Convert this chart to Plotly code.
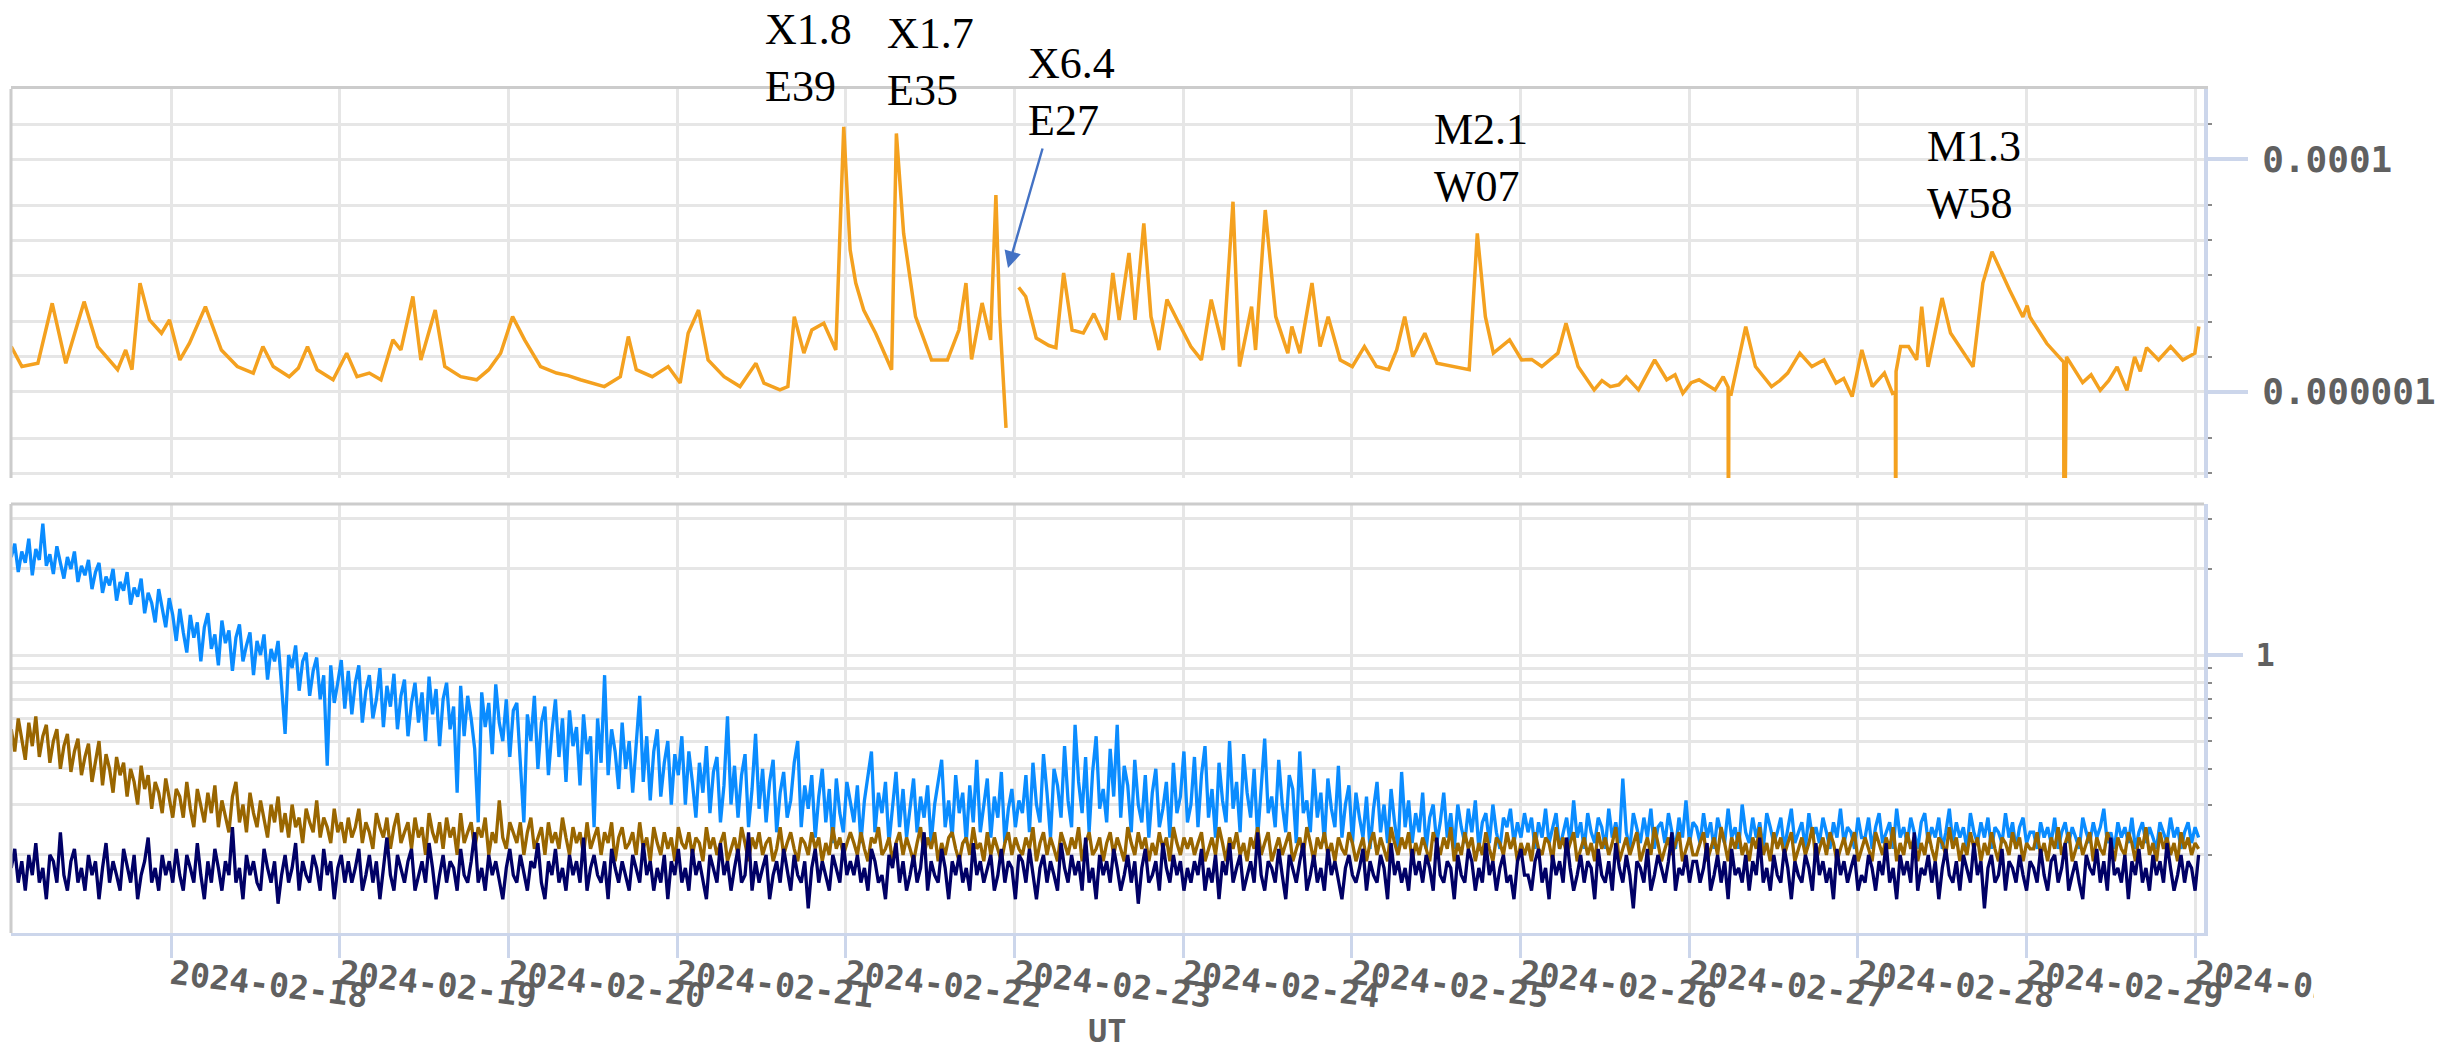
import pandas as pd
import plotly.graph_objects as go

# ---------------- data ----------------
# GOES X-ray long channel (W/m^2), hours since 2024-02-17 00:00 UT
xray_hours = [1.25, 2.77, 5.04, 7.08, 9.01, 11.62, 13.55, 16.39, 17.53, 18.43, 19.57, 20.93, 22.63, 23.77,
              25.25, 26.61, 28.88, 31.15, 33.42, 35.69, 37.06, 38.53, 40.80, 42.1, 43.41, 44.78, 47.05, 48.98,
              50.45, 52.2, 53.86, 55.56, 56.70, 57.49, 58.40, 59.54, 61.58, 62.94, 65.21, 67.48, 69.19, 70.89,
              72.59, 74.30, 76.57, 78.84, 80.5, 82.24, 83.8, 85.65, 87.92, 89.06, 90.19, 92.46, 94.73, 96.44, 97.57,
              99.05, 100.41, 102.68, 104.95, 107.22, 108.36, 110.63, 111.76, 112.67, 114.04, 115.17,
              116.87, 118.58, 119.71, 120.62, 121.42, 122.55, 124.25, 126.52, 127.20, 128.23, 129.93,
              132.20, 134.47, 136.1, 137.1, 137.9, 139.4, 140.6, 141.36, 141.9, 142.8, 143.7, 144.6,
              145.6, 147.1, 148.9, 149.9, 151.0, 152.2, 153.8, 155.3, 157.0, 158.0, 158.9, 160.3, 161.16,
              162.41, 163.43, 164.56, 165.70, 167.40, 169.10, 170.6, 172.0, 173.72, 175.10, 176.02,
              177.74, 178.31, 179.69, 181.18, 182.90, 183.47, 184.62, 186.34, 187.49, 188.64, 190.36,
              192.08, 193.80, 195.52, 197.24, 198.39, 199.53, 200.68, 202.40, 204.12, 206.42, 208.71,
              209.86, 211.01, 212.15, 214.45, 216.17, 217.6, 219.04, 221.33, 222.48, 224.20, 226.49, 227.6,
              228.79, 230.0, 231.08, 232.80, 235.10, 236.82, 238.0, 239.11, 240.3, 241.41, 243.70, 244.85,
              245.55, 245.6, 245.65, 246.0, 248.06, 249.44, 251.73, 252.9, 254.03, 255.75, 257.47, 259.19,
              260.91, 262.0, 263.20, 264.58, 266.07, 267.79, 268.94, 269.35, 269.4, 269.45, 270.09, 271.23,
              272.38, 273.1, 274.0, 276.0, 277.2, 280.4, 281.8, 283.1, 285.6, 287.5, 288.1, 288.5, 290.9,
              292.9, 293.3, 293.35, 293.7, 296.0, 297.2, 298.5, 299.7, 300.9, 302.3, 303.4, 304.2, 305.1,
              306.80, 308.52, 310.24, 311.96, 312.53]
xray_flux = [2.45e-6, 1.65e-6, 1.76e-6, 5.77e-6, 1.76e-6, 5.96e-6, 2.45e-6, 1.55e-6, 2.29e-6, 1.55e-6,
             8.6e-6, 4.15e-6, 3.19e-6, 4.15e-6, 1.88e-6, 2.62e-6, 5.4e-6, 2.29e-6, 1.65e-6, 1.45e-6,
             2.45e-6, 1.65e-6, 1.35e-6, 1.6e-6, 2.45e-6, 1.55e-6, 1.27e-6, 2.15e-6, 1.35e-6, 1.45e-6, 1.27e-6,
             2.8e-6, 2.29e-6, 3.64e-6, 6.6e-6, 1.88e-6, 5.05e-6, 1.65e-6, 1.35e-6, 1.27e-6, 1.55e-6, 2.15e-6,
             4.43e-6, 2.8e-6, 1.65e-6, 1.45e-6, 1.38e-6, 1.27e-6, 1.2e-6, 1.11e-6, 1.35e-6, 2.99e-6, 1.55e-6,
             1.35e-6, 1.65e-6, 1.19e-6, 3.19e-6, 5.05e-6, 1.88e-6, 1.35e-6, 1.11e-6, 1.76e-6, 1.19e-6,
             1.04e-6, 1.11e-6, 4.43e-6, 2.15e-6, 3.41e-6, 3.89e-6, 2.29e-6, 1.89e-4, 1.66e-5, 8.6e-6,
             5.05e-6, 3.19e-6, 1.55e-6, 1.66e-4, 2.3e-5, 4.43e-6, 1.88e-6, 1.88e-6, 3.4e-6, 8.6e-6, 1.9e-6,
             5.8e-6, 2.8e-6, 4.9e-5, 4.5e-6, 4.9e-7, None, 7.9e-6, 6.6e-6, 2.9e-6, 2.5e-6, 2.4e-6,
             1.05e-5, 3.4e-6, 3.2e-6, 4.7e-6, 2.8e-6, 1.05e-5, 4.15e-6, 1.56e-5, 4.15e-6, 2.8e-5,
             4.43e-6, 2.29e-6, 6.2e-6, 3.89e-6, 2.45e-6, 1.88e-6, 6.2e-6, 2.29e-6, 4.3e-5, 1.65e-6,
             5.4e-6, 2.29e-6, 3.65e-5, 4.43e-6, 2.15e-6, 3.64e-6, 2.15e-6, 8.6e-6, 2.45e-6, 4.43e-6,
             1.88e-6, 1.65e-6, 2.45e-6, 1.65e-6, 1.55e-6, 2.29e-6, 4.43e-6, 2.01e-6, 3.19e-6, 1.76e-6,
             1.65e-6, 1.55e-6, 2.3e-5, 4.43e-6, 2.15e-6, 2.8e-6, 1.88e-6, 1.9e-6, 1.65e-6, 2.15e-6, 3.89e-6,
             1.65e-6, 1.04e-6, 1.25e-6, 1.11e-6, 1.15e-6, 1.35e-6, 1.04e-6, 1.88e-6, 1.27e-6, 1.4e-6, 9.7e-7,
             1.2e-6, 1.27e-6, 1.04e-6, 1.35e-6, 1.1e-6, 1e-8, 1.0e-6, 9.7e-7, 3.64e-6, 1.65e-6, 1.11e-6,
             1.25e-6, 1.45e-6, 2.15e-6, 1.65e-6, 1.88e-6, 1.19e-6, 1.3e-6, 9.1e-7, 2.29e-6, 1.11e-6,
             1.45e-6, 9.7e-7, 1.0e-6, 1e-8, 1.5e-6, 2.45e-6, 2.45e-6, 1.88e-6, 5.4e-6, 1.64e-6, 6.4e-6,
             3.2e-6, 1.64e-6, 8.6e-6, 1.6e-5, 7.5e-6, 4.4e-6, 5.5e-6, 4.4e-6, 2.6e-6, 1.9e-6, 1.8e-6,
             1e-8, 2.0e-6, 1.2e-6, 1.4e-6, 1.03e-6, 1.25e-6, 1.64e-6, 1.03e-6, 2.0e-6, 1.5e-6, 2.4e-6,
             1.88e-6, 2.45e-6, 1.88e-6, 2.15e-6, 3.64e-6]

# Particle fluxes, evenly spaced samples (~30 min) from 2024-02-17 01:15 to 2024-03-01 00:30 UT
particle_start = "2024-02-17 01:15"
particle_end = "2024-03-01 00:30"
blue_flux = [
    2.20, 2.45, 1.95, 2.30, 2.10, 2.55, 1.90, 2.35, 2.15, 2.88, 2.05, 2.25, 1.92, 2.40, 2.10, 1.85, 2.20, 2.00, 2.30, 1.80, 2.05, 1.90, 2.15, 1.70,
    1.95, 2.10, 1.65, 1.88, 1.75, 2.00, 1.55, 1.80, 1.68, 1.95, 1.50, 1.72, 1.60, 1.85, 1.40, 1.65, 1.52, 1.30, 1.70, 1.45, 1.25, 1.58, 1.38, 1.12,
    1.45, 1.20, 1.02, 1.38, 1.15, 1.30, 0.95, 1.25, 1.40, 1.05, 1.18, 0.92, 1.32, 1.10, 1.22, 0.88, 1.15, 1.28, 0.95, 1.08, 1.20, 0.85, 1.12, 1.00,
    1.18, 0.82, 1.05, 0.95, 1.12, 0.78, 0.53, 1.00, 0.90, 1.08, 0.75, 0.95, 1.02, 0.72, 0.88, 0.98, 0.70, 0.85, 0.41, 0.92, 0.68, 0.80, 0.96, 0.65,
    0.88, 0.62, 0.80, 0.92, 0.58, 0.75, 0.85, 0.60, 0.70, 0.90, 0.56, 0.78, 0.66, 0.86, 0.55, 0.72, 0.82, 0.52, 0.68, 0.80, 0.58, 0.74, 0.50, 0.84,
    0.62, 0.76, 0.48, 0.70, 0.80, 0.55, 0.66, 0.33, 0.78, 0.52, 0.72, 0.60, 0.47, 0.26, 0.74, 0.56, 0.68, 0.45, 0.79, 0.58, 0.50, 0.70, 0.44, 0.64,
    0.68, 0.42, 0.26, 0.62, 0.50, 0.72, 0.40, 0.58, 0.66, 0.38, 0.54, 0.70, 0.44, 0.60, 0.36, 0.64, 0.48, 0.56, 0.35, 0.62, 0.45, 0.52, 0.25, 0.60,
    0.42, 0.85, 0.38, 0.55, 0.46, 0.34, 0.58, 0.40, 0.50, 0.33, 0.48, 0.72, 0.36, 0.52, 0.31, 0.46, 0.55, 0.32, 0.42, 0.50, 0.30, 0.45, 0.38, 0.52,
    0.30, 0.46, 0.36, 0.27, 0.42, 0.33, 0.48, 0.28, 0.39, 0.44, 0.26, 0.35, 0.61, 0.30, 0.41, 0.27, 0.38, 0.45, 0.25, 0.34, 0.53, 0.29, 0.40, 0.26,
    0.36, 0.43, 0.24, 0.33, 0.39, 0.27, 0.31, 0.42, 0.50, 0.25, 0.35, 0.29, 0.38, 0.23, 0.32, 0.40, 0.26, 0.34, 0.22, 0.37, 0.28, 0.24, 0.36, 0.30,
    0.26, 0.35, 0.22, 0.31, 0.38, 0.46, 0.24, 0.33, 0.28, 0.36, 0.22, 0.30, 0.39, 0.25, 0.34, 0.23, 0.29, 0.37, 0.24, 0.32, 0.27, 0.35, 0.22, 0.30,
    0.36, 0.43, 0.25, 0.31, 0.23, 0.38, 0.28, 0.33, 0.22, 0.35, 0.26, 0.43, 0.24, 0.30, 0.37, 0.23, 0.32, 0.27, 0.39, 0.22, 0.29, 0.34, 0.25, 0.31,
    0.28, 0.38, 0.24, 0.42, 0.30, 0.26, 0.45, 0.33, 0.23, 0.40, 0.35, 0.27, 0.48, 0.31, 0.25, 0.57, 0.36, 0.28, 0.44, 0.24, 0.39, 0.52, 0.29, 0.34,
    0.26, 0.47, 0.32, 0.57, 0.27, 0.41, 0.35, 0.24, 0.43, 0.30, 0.26, 0.38, 0.23, 0.33, 0.40, 0.25, 0.29, 0.36, 0.23, 0.42, 0.28, 0.32, 0.46, 0.26,
    0.30, 0.44, 0.25, 0.38, 0.48, 0.27, 0.34, 0.23, 0.42, 0.31, 0.26, 0.50, 0.29, 0.36, 0.24, 0.45, 0.33, 0.27, 0.40, 0.23, 0.35, 0.51, 0.28, 0.32,
    0.25, 0.43, 0.30, 0.24, 0.38, 0.34, 0.22, 0.46, 0.28, 0.31, 0.24, 0.40, 0.27, 0.33, 0.22, 0.37, 0.29, 0.25, 0.41, 0.23, 0.30, 0.35, 0.22, 0.33,
    0.27, 0.23, 0.32, 0.21, 0.29, 0.36, 0.24, 0.30, 0.22, 0.34, 0.26, 0.21, 0.39, 0.25, 0.31, 0.22, 0.28, 0.24, 0.33, 0.21, 0.27, 0.30, 0.22, 0.26,
    0.33, 0.23, 0.28, 0.21, 0.30, 0.25, 0.22, 0.29, 0.24, 0.31, 0.21, 0.26, 0.28, 0.22, 0.30, 0.24, 0.21, 0.27, 0.25, 0.29, 0.22, 0.26, 0.23, 0.28,
    0.24, 0.27, 0.21, 0.26, 0.23, 0.29, 0.22, 0.25, 0.28, 0.21, 0.24, 0.27, 0.22, 0.31, 0.23, 0.26, 0.21, 0.28, 0.24, 0.22, 0.27, 0.25, 0.21, 0.29,
    0.23, 0.26, 0.22, 0.37, 0.24, 0.21, 0.28, 0.25, 0.22, 0.27, 0.23, 0.29, 0.21, 0.25, 0.26, 0.22, 0.28, 0.24, 0.21, 0.27, 0.23, 0.31, 0.22, 0.26,
    0.25, 0.22, 0.28, 0.23, 0.26, 0.21, 0.27, 0.24, 0.22, 0.29, 0.23, 0.25, 0.21, 0.30, 0.24, 0.22, 0.27, 0.23, 0.26, 0.21, 0.28, 0.25, 0.22, 0.24,
    0.27, 0.21, 0.25, 0.29, 0.22, 0.24, 0.26, 0.21, 0.28, 0.23, 0.25, 0.22, 0.27, 0.24, 0.21, 0.26, 0.23, 0.29, 0.22, 0.25, 0.24, 0.21, 0.27, 0.23,
    0.23, 0.27, 0.21, 0.25, 0.28, 0.22, 0.24, 0.26, 0.21, 0.29, 0.23, 0.25, 0.22, 0.27, 0.24, 0.21, 0.26, 0.28, 0.22, 0.25, 0.23, 0.27, 0.21, 0.24,
    0.29, 0.22, 0.26, 0.23, 0.25, 0.21, 0.28, 0.24, 0.22, 0.26, 0.23, 0.27, 0.21, 0.25, 0.24, 0.22, 0.28, 0.23, 0.26, 0.21, 0.25, 0.27, 0.22, 0.24,
    0.24, 0.21, 0.26, 0.23, 0.25, 0.22, 0.27, 0.21, 0.24, 0.26, 0.22, 0.25, 0.23, 0.21, 0.27, 0.24, 0.22, 0.26, 0.23, 0.25, 0.29, 0.22, 0.24, 0.21,
    0.26, 0.23, 0.25, 0.22, 0.27, 0.21, 0.24, 0.26, 0.22, 0.25, 0.23, 0.21, 0.26, 0.24, 0.22, 0.27, 0.23, 0.25, 0.21, 0.24, 0.26, 0.22, 0.25, 0.23,
]
brown_flux = [
    0.55, 0.46, 0.60, 0.50, 0.43, 0.58, 0.48, 0.61, 0.44, 0.52, 0.57, 0.42, 0.50, 0.55, 0.40, 0.48, 0.53, 0.39, 0.46, 0.51, 0.38, 0.44, 0.49, 0.36,
    0.42, 0.50, 0.35, 0.45, 0.40, 0.33, 0.44, 0.38, 0.42, 0.32, 0.40, 0.36, 0.30, 0.41, 0.34, 0.38, 0.29, 0.36, 0.33, 0.28, 0.37, 0.31, 0.27, 0.34,
    0.32, 0.27, 0.36, 0.29, 0.25, 0.34, 0.30, 0.26, 0.33, 0.28, 0.35, 0.25, 0.31, 0.27, 0.24, 0.32, 0.36, 0.26, 0.30, 0.24, 0.33, 0.28, 0.25, 0.31,
    0.27, 0.23, 0.30, 0.26, 0.32, 0.24, 0.28, 0.23, 0.30, 0.25, 0.27, 0.22, 0.29, 0.26, 0.24, 0.31, 0.23, 0.27, 0.25, 0.22, 0.29, 0.24, 0.26, 0.22,
    0.27, 0.23, 0.25, 0.29, 0.22, 0.26, 0.24, 0.21, 0.28, 0.25, 0.23, 0.27, 0.21, 0.25, 0.28, 0.22, 0.24, 0.26, 0.21, 0.27, 0.23, 0.25, 0.20, 0.28,
    0.24, 0.22, 0.26, 0.21, 0.27, 0.23, 0.25, 0.20, 0.28, 0.22, 0.24, 0.26, 0.21, 0.25, 0.23, 0.27, 0.20, 0.24, 0.22, 0.31, 0.23, 0.21, 0.26, 0.24,
    0.22, 0.26, 0.20, 0.24, 0.27, 0.21, 0.23, 0.25, 0.20, 0.26, 0.22, 0.24, 0.21, 0.27, 0.23, 0.20, 0.25, 0.22, 0.24, 0.20, 0.26, 0.21, 0.23, 0.25,
    0.20, 0.24, 0.22, 0.26, 0.19, 0.23, 0.25, 0.21, 0.22, 0.24, 0.20, 0.26, 0.21, 0.23, 0.19, 0.25, 0.22, 0.20, 0.24, 0.21, 0.23, 0.19, 0.25, 0.22,
    0.21, 0.24, 0.20, 0.23, 0.22, 0.19, 0.25, 0.21, 0.23, 0.20, 0.22, 0.24, 0.19, 0.21, 0.23, 0.20, 0.25, 0.22, 0.19, 0.23, 0.21, 0.24, 0.20, 0.22,
    0.23, 0.19, 0.21, 0.25, 0.20, 0.22, 0.24, 0.21, 0.19, 0.23, 0.22, 0.20, 0.24, 0.21, 0.23, 0.19, 0.22, 0.20, 0.25, 0.21, 0.23, 0.20, 0.22, 0.24,
    0.22, 0.20, 0.24, 0.21, 0.19, 0.23, 0.22, 0.25, 0.20, 0.21, 0.23, 0.19, 0.22, 0.24, 0.20, 0.23, 0.21, 0.19, 0.22, 0.25, 0.20, 0.23, 0.21, 0.24,
    0.19, 0.22, 0.20, 0.23, 0.24, 0.21, 0.19, 0.22, 0.23, 0.20, 0.25, 0.21, 0.22, 0.19, 0.24, 0.20, 0.23, 0.21, 0.19, 0.22, 0.24, 0.20, 0.23, 0.21,
    0.20, 0.23, 0.21, 0.25, 0.19, 0.22, 0.24, 0.20, 0.23, 0.21, 0.19, 0.24, 0.22, 0.20, 0.23, 0.21, 0.25, 0.19, 0.22, 0.24, 0.20, 0.21, 0.23, 0.19,
    0.22, 0.24, 0.20, 0.23, 0.21, 0.19, 0.25, 0.22, 0.20, 0.24, 0.21, 0.23, 0.19, 0.22, 0.20, 0.24, 0.21, 0.23, 0.19, 0.25, 0.22, 0.20, 0.23, 0.21,
    0.23, 0.20, 0.22, 0.24, 0.19, 0.21, 0.23, 0.20, 0.25, 0.22, 0.19, 0.23, 0.21, 0.24, 0.20, 0.22, 0.19, 0.23, 0.21, 0.25, 0.20, 0.22, 0.24, 0.19,
    0.21, 0.23, 0.20, 0.22, 0.24, 0.19, 0.21, 0.23, 0.20, 0.25, 0.22, 0.19, 0.23, 0.21, 0.24, 0.20, 0.22, 0.19, 0.23, 0.21, 0.20, 0.24, 0.22, 0.19,
    0.21, 0.23, 0.19, 0.22, 0.24, 0.20, 0.23, 0.21, 0.19, 0.25, 0.22, 0.20, 0.23, 0.21, 0.24, 0.19, 0.22, 0.20, 0.23, 0.21, 0.19, 0.24, 0.22, 0.20,
    0.23, 0.21, 0.25, 0.19, 0.22, 0.20, 0.24, 0.21, 0.23, 0.19, 0.22, 0.20, 0.24, 0.21, 0.19, 0.23, 0.22, 0.20, 0.24, 0.21, 0.23, 0.19, 0.22, 0.20,
    0.22, 0.19, 0.24, 0.21, 0.20, 0.23, 0.22, 0.19, 0.25, 0.21, 0.23, 0.20, 0.22, 0.24, 0.19, 0.21, 0.23, 0.20, 0.22, 0.19, 0.24, 0.21, 0.23, 0.20,
    0.22, 0.25, 0.19, 0.21, 0.23, 0.20, 0.22, 0.24, 0.19, 0.21, 0.23, 0.20, 0.25, 0.22, 0.19, 0.21, 0.23, 0.20, 0.22, 0.24, 0.19, 0.21, 0.23, 0.20,
    0.20, 0.22, 0.24, 0.19, 0.21, 0.23, 0.20, 0.25, 0.22, 0.19, 0.23, 0.21, 0.24, 0.20, 0.22, 0.19, 0.23, 0.21, 0.25, 0.20, 0.22, 0.19, 0.24, 0.21,
    0.23, 0.20, 0.22, 0.24, 0.19, 0.21, 0.23, 0.20, 0.22, 0.25, 0.19, 0.21, 0.23, 0.20, 0.24, 0.22, 0.19, 0.21, 0.23, 0.20, 0.22, 0.24, 0.19, 0.21,
    0.23, 0.21, 0.19, 0.24, 0.22, 0.20, 0.23, 0.21, 0.25, 0.19, 0.22, 0.20, 0.24, 0.21, 0.23, 0.19, 0.22, 0.20, 0.24, 0.21, 0.19, 0.23, 0.22, 0.20,
    0.25, 0.21, 0.23, 0.19, 0.22, 0.20, 0.24, 0.21, 0.23, 0.19, 0.22, 0.20, 0.24, 0.21, 0.19, 0.23, 0.22, 0.20, 0.24, 0.21, 0.23, 0.19, 0.22, 0.21,
    0.21, 0.24, 0.20, 0.22, 0.19, 0.23, 0.21, 0.25, 0.20, 0.22, 0.24, 0.19, 0.21, 0.23, 0.20, 0.22, 0.24, 0.19, 0.23, 0.21, 0.20, 0.24, 0.22, 0.19,
    0.23, 0.21, 0.20, 0.24, 0.22, 0.19, 0.23, 0.21, 0.25, 0.20, 0.22, 0.19, 0.24, 0.21, 0.23, 0.20, 0.22, 0.19, 0.24, 0.21, 0.23, 0.20, 0.22, 0.21,
]
navy_flux = [
    0.18, 0.21, 0.16, 0.19, 0.15, 0.20, 0.17, 0.22, 0.16, 0.18, 0.14, 0.20, 0.19, 0.16, 0.24, 0.17, 0.15, 0.19, 0.21, 0.16, 0.18, 0.15, 0.20, 0.17,
    0.19, 0.14, 0.18, 0.22, 0.16, 0.19, 0.17, 0.15, 0.21, 0.18, 0.16, 0.20, 0.14, 0.17, 0.19, 0.23, 0.16, 0.18, 0.15, 0.20, 0.17, 0.19, 0.16, 0.21,
    0.17, 0.15, 0.20, 0.18, 0.16, 0.22, 0.17, 0.14, 0.19, 0.16, 0.21, 0.18, 0.15, 0.19, 0.17, 0.25, 0.16, 0.18, 0.14, 0.20, 0.17, 0.19, 0.16, 0.15,
    0.21, 0.18, 0.16, 0.19, 0.135, 0.17, 0.20, 0.16, 0.18, 0.22, 0.15, 0.19, 0.17, 0.16, 0.20, 0.18, 0.15, 0.21, 0.17, 0.19, 0.14, 0.18, 0.20, 0.16,
    0.19, 0.16, 0.18, 0.21, 0.15, 0.17, 0.20, 0.16, 0.19, 0.14, 0.18, 0.23, 0.17, 0.15, 0.20, 0.18, 0.16, 0.19, 0.21, 0.15, 0.17, 0.19, 0.16, 0.22,
    0.18, 0.14, 0.17, 0.20, 0.16, 0.19, 0.18, 0.15, 0.21, 0.17, 0.16, 0.19, 0.24, 0.16, 0.18, 0.15, 0.20, 0.17, 0.19, 0.16, 0.14, 0.18, 0.21, 0.17,
    0.16, 0.20, 0.17, 0.15, 0.19, 0.18, 0.22, 0.16, 0.14, 0.19, 0.17, 0.21, 0.16, 0.18, 0.15, 0.20, 0.17, 0.19, 0.16, 0.23, 0.15, 0.18, 0.20, 0.17,
    0.16, 0.19, 0.14, 0.21, 0.18, 0.16, 0.19, 0.17, 0.15, 0.20, 0.18, 0.16, 0.22, 0.17, 0.19, 0.15, 0.18, 0.16, 0.20, 0.14, 0.19, 0.17, 0.21, 0.16,
    0.18, 0.15, 0.21, 0.17, 0.19, 0.16, 0.14, 0.20, 0.18, 0.16, 0.22, 0.17, 0.19, 0.15, 0.18, 0.21, 0.16, 0.17, 0.24, 0.15, 0.19, 0.16, 0.18, 0.20,
    0.14, 0.17, 0.19, 0.16, 0.21, 0.18, 0.15, 0.20, 0.17, 0.16, 0.19, 0.13, 0.18, 0.21, 0.16, 0.19, 0.17, 0.15, 0.20, 0.18, 0.16, 0.22, 0.17, 0.19,
    0.17, 0.20, 0.16, 0.18, 0.15, 0.21, 0.19, 0.16, 0.17, 0.14, 0.20, 0.18, 0.22, 0.16, 0.19, 0.15, 0.17, 0.20, 0.16, 0.18, 0.24, 0.15, 0.19, 0.17,
    0.16, 0.21, 0.18, 0.14, 0.19, 0.17, 0.20, 0.16, 0.18, 0.15, 0.22, 0.17, 0.19, 0.16, 0.18, 0.20, 0.15, 0.17, 0.21, 0.16, 0.19, 0.18, 0.14, 0.20,
    0.19, 0.16, 0.21, 0.17, 0.14, 0.18, 0.20, 0.16, 0.19, 0.17, 0.15, 0.22, 0.18, 0.16, 0.20, 0.17, 0.19, 0.15, 0.23, 0.16, 0.18, 0.14, 0.20, 0.17,
    0.19, 0.16, 0.21, 0.18, 0.15, 0.17, 0.20, 0.16, 0.19, 0.135, 0.18, 0.21, 0.16, 0.17, 0.19, 0.15, 0.22, 0.18, 0.16, 0.20, 0.17, 0.19, 0.15, 0.18,
    0.16, 0.19, 0.17, 0.21, 0.15, 0.18, 0.16, 0.20, 0.14, 0.19, 0.17, 0.22, 0.16, 0.18, 0.20, 0.15, 0.17, 0.19, 0.16, 0.24, 0.17, 0.15, 0.19, 0.18,
    0.16, 0.21, 0.17, 0.14, 0.20, 0.18, 0.16, 0.19, 0.22, 0.15, 0.17, 0.20, 0.16, 0.18, 0.15, 0.21, 0.17, 0.19, 0.16, 0.14, 0.18, 0.20, 0.17, 0.16,
    0.18, 0.21, 0.15, 0.19, 0.17, 0.16, 0.20, 0.18, 0.14, 0.22, 0.17, 0.19, 0.16, 0.18, 0.15, 0.21, 0.17, 0.19, 0.16, 0.20, 0.18, 0.15, 0.23, 0.17,
    0.16, 0.19, 0.18, 0.14, 0.20, 0.17, 0.16, 0.21, 0.19, 0.15, 0.18, 0.16, 0.22, 0.17, 0.19, 0.15, 0.18, 0.20, 0.16, 0.17, 0.14, 0.19, 0.21, 0.17,
    0.17, 0.15, 0.19, 0.21, 0.16, 0.18, 0.14, 0.20, 0.17, 0.19, 0.16, 0.23, 0.18, 0.15, 0.17, 0.20, 0.16, 0.19, 0.18, 0.14, 0.21, 0.17, 0.16, 0.19,
    0.15, 0.22, 0.18, 0.16, 0.20, 0.17, 0.13, 0.19, 0.18, 0.16, 0.21, 0.15, 0.17, 0.20, 0.18, 0.16, 0.19, 0.24, 0.15, 0.18, 0.17, 0.20, 0.16, 0.19,
    0.19, 0.16, 0.18, 0.22, 0.15, 0.17, 0.20, 0.16, 0.19, 0.14, 0.21, 0.17, 0.18, 0.16, 0.20, 0.15, 0.19, 0.17, 0.23, 0.16, 0.18, 0.15, 0.20, 0.17,
    0.16, 0.21, 0.18, 0.14, 0.19, 0.17, 0.16, 0.20, 0.18, 0.15, 0.22, 0.17, 0.19, 0.16, 0.18, 0.14, 0.21, 0.17, 0.19, 0.16, 0.18, 0.20, 0.15, 0.17,
    0.16, 0.20, 0.18, 0.15, 0.19, 0.17, 0.22, 0.16, 0.18, 0.14, 0.20, 0.17, 0.19, 0.16, 0.24, 0.15, 0.18, 0.17, 0.20, 0.16, 0.19, 0.14, 0.18, 0.21,
    0.17, 0.16, 0.19, 0.15, 0.20, 0.18, 0.16, 0.22, 0.17, 0.19, 0.13, 0.18, 0.20, 0.16, 0.17, 0.21, 0.15, 0.19, 0.18, 0.16, 0.20, 0.17, 0.15, 0.19,
    0.18, 0.16, 0.21, 0.17, 0.15, 0.19, 0.20, 0.16, 0.18, 0.22, 0.15, 0.17, 0.19, 0.16, 0.14, 0.20, 0.18, 0.17, 0.21, 0.16, 0.19, 0.15, 0.23, 0.17,
    0.18, 0.16, 0.20, 0.14, 0.19, 0.17, 0.21, 0.16, 0.18, 0.15, 0.20, 0.17, 0.19, 0.16, 0.22, 0.18, 0.15, 0.17, 0.20, 0.16, 0.19, 0.18, 0.15, 0.20,
]

flare_labels = ["X1.8<br>E39", "X1.7<br>E35", "X6.4<br>E27", "M2.1<br>W07", "M1.3<br>W58"]

top_ticks = [1e-6, 1e-4]
top_tick_text = ["0.000001", "0.0001"]
top_minor = [2e-7, 4e-7, 2e-6, 4e-6, 1e-5, 2e-5, 4e-5, 2e-4]
bottom_ticks = [1]
bottom_tick_text = ["1"]
bottom_minor = [0.2, 0.3, 0.4, 0.5, 0.6, 0.7, 0.8, 0.9, 2, 3]

# ---------------- build ----------------
t0 = pd.Timestamp("2024-02-17")
xray_time = [t0 + pd.Timedelta(hours=h) for h in xray_hours]


def sampled(vals):
    return pd.date_range(particle_start, particle_end, periods=len(vals))


W, H = 2463, 1050
L, R, T, B = 11, 2204, 89, 933          # plot area in px
PW, PH = R - L, B - T


def px(x):
    return (x - L) / PW


def py(y):
    return (B - y) / PH


top_dom = [py(478), 1.0]
bot_dom = [0.0, py(504)]
x_range = ["2024-02-17 01:13", "2024-03-01 01:16"]
DAY = 86400000

fig = go.Figure()
fig.add_trace(go.Scatter(x=xray_time, y=xray_flux, mode="lines", connectgaps=False,
                         line=dict(color="#F4A11F", width=3.5), xaxis="x", yaxis="y"))
fig.add_trace(go.Scatter(x=sampled(blue_flux), y=blue_flux, mode="lines",
                         line=dict(color="#0A8CFF", width=3.3), xaxis="x2", yaxis="y2"))
fig.add_trace(go.Scatter(x=sampled(brown_flux), y=brown_flux, mode="lines",
                         line=dict(color="#996600", width=3.3), xaxis="x2", yaxis="y2"))
fig.add_trace(go.Scatter(x=sampled(navy_flux), y=navy_flux, mode="lines",
                         line=dict(color="#000066", width=3.3), xaxis="x2", yaxis="y2"))

grid = "#e6e6e6"
axis_blue = "#ccd6eb"
label_color = "#606060"

fig.update_layout(
    width=W, height=H, showlegend=False,
    margin=dict(l=L, r=W - R, t=T, b=H - B, pad=0),
    paper_bgcolor="white", plot_bgcolor="white",
    xaxis=dict(domain=[0, 1], anchor="y", side="top", type="date", range=x_range,
               showline=True, linecolor="#cccccc", linewidth=3, ticks="", showticklabels=False,
               showgrid=True, gridcolor=grid, gridwidth=3, tick0="2024-02-17", dtick=DAY,
               zeroline=False),
    xaxis2=dict(domain=[0, 1], anchor="y2", type="date", range=x_range, matches="x",
                showline=True, linecolor=axis_blue, linewidth=3,
                ticks="outside", ticklen=22, tickwidth=3, tickcolor=axis_blue,
                tickangle=7, tickformat="%Y-%m-%d", ticklabelstandoff=-14,
                tickfont=dict(family="DejaVu Sans Mono", size=33, color=label_color, weight="bold"),
                showgrid=True, gridcolor=grid, gridwidth=3, tick0="2024-02-17", dtick=DAY,
                zeroline=False),
    yaxis=dict(domain=top_dom, anchor="x", side="right", type="log", range=[-6.74, -3.398],
               tickmode="array", tickvals=top_ticks, ticktext=top_tick_text,
               ticks="outside", ticklen=40, tickwidth=4, tickcolor=axis_blue,
               showline=True, linecolor=axis_blue, linewidth=4,
               showgrid=True, gridcolor=grid, gridwidth=3, zeroline=False,
               tickfont=dict(family="DejaVu Sans Mono", size=36, color=label_color, weight="bold"),
               ticklabelstandoff=7,
               minor=dict(tickmode="array", tickvals=top_minor, ticks="outside", ticklen=4,
                          tickwidth=2, tickcolor="#8a8a8a", showgrid=True, gridcolor=grid,
                          gridwidth=3)),
    yaxis2=dict(domain=bot_dom, anchor="x2", side="right", type="log", range=[-0.972, 0.528],
                tickmode="array", tickvals=bottom_ticks, ticktext=bottom_tick_text,
                ticks="outside", ticklen=35, tickwidth=4, tickcolor=axis_blue,
                showline=True, linecolor=axis_blue, linewidth=4,
                showgrid=True, gridcolor=grid, gridwidth=3, zeroline=False,
                tickfont=dict(family="DejaVu Sans Mono", size=32, color=label_color, weight="bold"),
                ticklabelstandoff=6,
                minor=dict(tickmode="array", tickvals=bottom_minor, ticks="outside", ticklen=4,
                           tickwidth=2, tickcolor="#8a8a8a", showgrid=True, gridcolor=grid,
                           gridwidth=3)),
)

# panel borders (gray, top and left)
border = dict(color="#cccccc", width=3)
fig.add_shape(type="line", xref="paper", yref="paper", x0=0, x1=0, y0=top_dom[0], y1=1, line=border)
fig.add_shape(type="line", xref="paper", yref="paper", x0=0, x1=0, y0=0, y1=bot_dom[1], line=border)
fig.add_shape(type="line", xref="paper", yref="paper", x0=0, x1=1, y0=bot_dom[1], y1=bot_dom[1], line=border)
# chart container edge cuts off the last date label
fig.add_shape(type="rect", xref="paper", yref="paper", x0=px(2314), x1=px(2470), y0=py(1052), y1=py(957),
              fillcolor="white", line=dict(width=0), layer="above")

# flare labels
label_pos = [(763, 3), (885, 7), (1026, 37), (1432, 103), (1925, 120)]
for txt, (lx, ty) in zip(flare_labels, label_pos):
    fig.add_annotation(text=txt, xref="paper", yref="paper", x=px(lx), y=py(ty),
                       xanchor="left", yanchor="top", align="left", showarrow=False,
                       font=dict(family="Liberation Serif", size=44, color="black"))

# arrow to X6.4 event
fig.add_annotation(text="", xref="paper", yref="paper", x=px(1008), y=py(268),
                   ax=35, ay=-121, showarrow=True, arrowhead=2, arrowsize=1.4,
                   arrowwidth=2.4, arrowcolor="#4472C4")

# axis title
fig.add_annotation(text="UT", xref="paper", yref="paper", x=0.5, y=py(1031),
                   xanchor="center", yanchor="middle", showarrow=False,
                   font=dict(family="DejaVu Sans Mono", size=32, color=label_color, weight="bold"))

fig.write_html("out.html", config={"displayModeBar": False, "staticPlot": True},
               post_script="document.body.style.margin='0';document.body.style.overflow='hidden';")
